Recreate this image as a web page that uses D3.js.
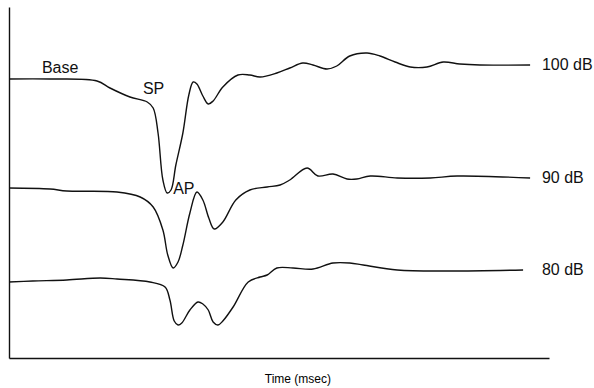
<!DOCTYPE html>
<html>
<head>
<meta charset="utf-8">
<script src="https://cdn.jsdelivr.net/npm/d3@7"></script>
<style>
  body { margin: 0; background: #fff; }
  svg { display: block; font-family: Arial, "Liberation Sans", sans-serif; }
  .trace { fill: none; stroke: #111; stroke-width: 1.4; }
  .axis path { stroke: #111; stroke-width: 1.4; }
  .lbl { font-size: 16px; fill: #111; }
</style>
</head>
<body>
<svg width="594" height="388"></svg>
<script>
'use strict';

// time (msec) and amplitude (offset units) for each trace
var t100 = [0, 0.76, 1.63, 1.87, 2.24, 2.56, 2.67, 2.76, 2.85, 2.93, 3.0, 3.09, 3.22, 3.33, 3.41, 3.48, 3.59, 3.69, 3.78, 3.96, 4.24, 4.46, 4.65, 4.96, 5.2, 5.44, 5.63, 5.89, 6.07, 6.31, 6.63, 6.87, 7.15, 7.43, 7.74, 8.04, 8.35, 8.72, 9.65];
var a100 = [0, 0, -0.2, -0.9, -1.8, -2.3, -2.9, -5.4, -10.1, -11.4, -11.1, -8.6, -5.4, -1.6, -0.3, -0.5, -1.7, -2.5, -2.2, -0.8, 0.4, 0.4, 0.2, 0.6, 1.1, 1.6, 1.4, 1.0, 1.3, 2.3, 2.6, 2.3, 1.7, 1.2, 1.2, 1.7, 1.5, 1.4, 1.4];

var t90 = [0, 0.76, 1.07, 2.0, 2.43, 2.67, 2.85, 2.94, 3.04, 3.13, 3.22, 3.35, 3.48, 3.59, 3.70, 3.80, 3.96, 4.20, 4.46, 4.78, 5.02, 5.20, 5.52, 5.72, 6.0, 6.26, 6.44, 6.69, 7.19, 7.80, 8.30, 9.65];
var a90 = [0, -0.1, -0.3, -0.4, -0.9, -1.9, -4.2, -6.7, -8.0, -7.4, -5.7, -2.5, -0.4, -1.2, -3.0, -4.1, -3.4, -1.2, -0.2, 0.1, 0.3, 0.8, 2.0, 1.2, 1.4, 0.9, 0.9, 1.2, 1.0, 1.0, 1.2, 1.0];

var t80 = [0, 0.44, 1.07, 1.69, 2.0, 2.61, 2.89, 2.98, 3.06, 3.13, 3.20, 3.35, 3.5, 3.59, 3.69, 3.78, 3.87, 3.96, 4.15, 4.43, 4.65, 4.78, 4.96, 5.26, 5.63, 6.0, 6.31, 6.56, 7.19, 8.11, 9.52];
var a80 = [-0.1, 0, 0.1, 0.3, 0.2, -0.1, -0.6, -1.9, -4.0, -4.4, -4.2, -2.9, -2.1, -2.3, -2.9, -4.1, -4.4, -4.0, -2.6, -0.1, 0.4, 0.6, 1.3, 1.3, 1.2, 1.8, 1.8, 1.6, 1.1, 1.0, 1.1];

var levels = ['100 dB', '90 dB', '80 dB'];
var offsets = [27.9, 17.0, 7.7];

var notes = ['Base', 'SP', 'AP'];
var noteT = [0.61, 2.48, 3.04];
var noteY = [28.5, 26.4, 16.4];

var margin = { top: 7, right: 45, bottom: 30, left: 9 };
var width = 594 - margin.left - margin.right;
var height = 388 - margin.top - margin.bottom;

var svg = d3.select('svg');
var g = svg.append('g').attr('transform', 'translate(' + margin.left + ',' + margin.top + ')');

var x = d3.scaleLinear().domain([0, 10]).range([0, width]);
var y = d3.scaleLinear().domain([0, 35.1]).range([height, 0]);

g.append('g').attr('class', 'axis').attr('transform', 'translate(0,' + height + ')')
    .call(d3.axisBottom(x).ticks(0).tickSizeOuter(0));
g.append('g').attr('class', 'axis')
    .call(d3.axisLeft(y).ticks(0).tickSizeOuter(0));

var series = [[t100, a100], [t90, a90], [t80, a80]].map(function (s, i) {
    return s[0].map(function (t, j) {
        return { t: t, v: s[1][j] + offsets[i] };
    });
});

var line = d3.line()
    .x(function (d) { return x(d.t); })
    .y(function (d) { return y(d.v); })
    .curve(d3.curveCatmullRom.alpha(0.5));

g.selectAll('.trace').data(series).enter().append('path')
    .attr('class', 'trace')
    .attr('d', line);

// level labels at the right end of each trace
g.selectAll('.level').data(series).enter().append('text')
    .attr('class', 'lbl')
    .attr('x', x(9.87))
    .attr('y', function (d) { return y(d[d.length - 1].v) + 5; })
    .text(function (d, i) { return levels[i]; });

g.selectAll('.note').data(notes).enter().append('text')
    .attr('class', 'lbl')
    .attr('x', function (d, i) { return x(noteT[i]); })
    .attr('y', function (d, i) { return y(noteY[i]); })
    .text(function (d) { return d; });

g.append('text')
    .attr('x', x(5.35))
    .attr('y', height + 25)
    .attr('text-anchor', 'middle')
    .style('font-size', '12px')
    .text('Time (msec)');
</script>
</body>
</html>
